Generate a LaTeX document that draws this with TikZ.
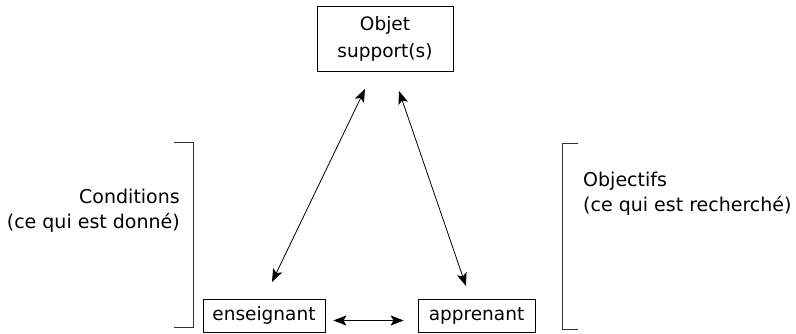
\documentclass[tikz,border=0pt]{standalone}
\usepackage{fontspec}
\setmainfont{DejaVu Sans}
\usetikzlibrary{arrows.meta}
\begin{document}
\begin{tikzpicture}[x=1pt,y=-1pt,
  box/.style={draw,line width=0.8pt,inner sep=0pt,font=\fontsize{18.5}{27}\selectfont,align=center},
  lbl/.style={inner sep=0pt,font=\fontsize{19}{25}\selectfont},
  arr/.style={line width=0.8pt,{Stealth[length=13pt,width=10pt,inset=3pt]}-{Stealth[length=13pt,width=10pt,inset=3pt]}},
  brk/.style={line width=0.8pt,draw=black!80}]
\useasboundingbox (0,0) rectangle (796,334);
\node[box,minimum width=136pt,minimum height=65pt] (obj) at (385,38.5) {Objet\\support(s)};
\node[box,minimum width=122pt,minimum height=33pt] (ens) at (264,315.5) {enseignant};
\node[box,minimum width=117pt,minimum height=33pt] (app) at (476.5,315.5) {apprenant};
\coordinate (a1) at (365,89);
\coordinate (a2) at (272,282);
\coordinate (b1) at (399,91);
\coordinate (b2) at (466,286);
\draw[arr] (a1) -- (a2);
\draw[arr] (b1) -- (b2);
\draw[arr] ([xshift=8pt,yshift=-5pt]ens.east) -- ([xshift=-14pt,yshift=-5pt]app.west);
\draw[brk] (174,142) -- (193,142) -- (193,327) -- (174,327);
\draw[brk] (578,143) -- (562,143) -- (562,329) -- (578,329);
\node[lbl,align=right,anchor=east] (cond) at (180,211) {Conditions\\(ce qui est donné)};
\node[lbl,align=left,anchor=west] (objf) at (583,194) {Objectifs\\(ce qui est recherché)};
\end{tikzpicture}
\end{document}
